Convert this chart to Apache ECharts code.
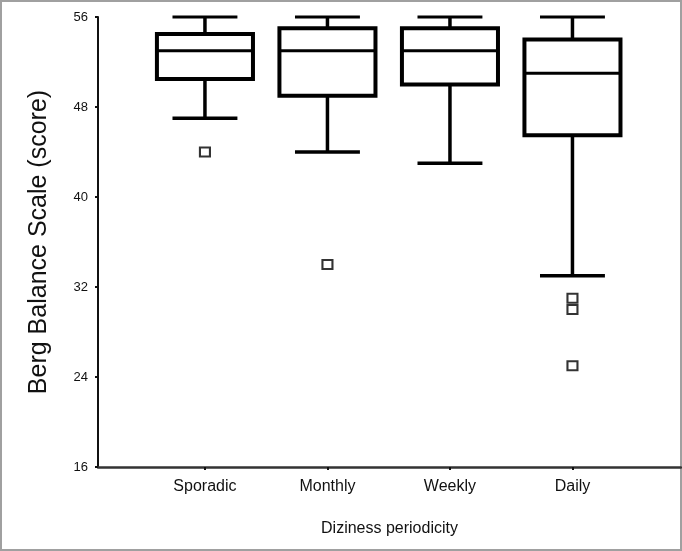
<!DOCTYPE html>
<html>
<head>
<meta charset="utf-8">
<script src="https://cdn.jsdelivr.net/npm/echarts@6/dist/echarts.min.js"></script>
<style>
  html, body { margin: 0; padding: 0; background: #fff; }
  #chart { width: 682px; height: 551px; }
</style>
</head>
<body>
<div id="chart"></div>
<script>
// ---- data ----
const categories  = ['Sporadic', 'Monthly', 'Weekly', 'Daily'];
const whiskerLow  = [47, 44, 43, 33];
const q1          = [50.5, 49, 50, 45.5];
const median      = [53, 53, 53, 51];
const q3          = [54.5, 55, 55, 54];
const whiskerHigh = [56, 56, 56, 56];
// outliers: [category index, value]
const outliers = [[0, 44], [1, 34], [3, 31], [3, 30], [3, 25]];
const yTicks = [16, 24, 32, 40, 48, 56];

// ---- build series data ----
const boxData = categories.map((c, i) => [i + 1, whiskerLow[i], q1[i], median[i], q3[i], whiskerHigh[i]]);
const outlierData = outliers.map(o => [o[0] + 1, o[1]]);

const BOX_W = 0.784;
const CAP_W = 0.53;

const chart = echarts.init(document.getElementById('chart'), null, { renderer: 'canvas' });
chart.setOption({
  backgroundColor: '#fff',
  animation: false,
  graphic: [{
    type: 'rect',
    shape: { x: 1, y: 1, width: 680, height: 549 },
    style: { fill: 'none', stroke: '#a0a0a0', lineWidth: 2 },
    silent: true, z: -10
  }],
  grid: { left: 98, right: 1, top: 17, bottom: 84 },
  xAxis: {
    type: 'value',
    min: 0.127,
    max: 4.886,
    name: 'Diziness periodicity',
    nameLocation: 'middle',
    nameGap: 54,
    nameTextStyle: { fontFamily: 'Liberation Sans', fontSize: 16, color: '#111' },
    axisLine: { show: true, lineStyle: { color: '#333', width: 2.5 } },
    axisTick: { show: true, customValues: [1, 2, 3, 4], length: 3, inside: false, lineStyle: { color: '#111', width: 2 } },
    axisLabel: {
      customValues: [1, 2, 3, 4],
      formatter: v => categories[Math.round(v) - 1] || '',
      fontFamily: 'Liberation Sans', fontSize: 16, color: '#111', margin: 12
    },
    splitLine: { show: false }
  },
  yAxis: {
    type: 'value',
    min: 16,
    max: 56,
    interval: 8,
    name: 'Berg Balance Scale (score)',
    nameLocation: 'middle',
    nameGap: 46,
    nameTextStyle: { fontFamily: 'Liberation Sans', fontSize: 25, color: '#111' },
    axisLine: { show: true, lineStyle: { color: '#111', width: 2 } },
    axisTick: { show: true, length: 3, lineStyle: { color: '#111', width: 2 } },
    axisLabel: { fontFamily: 'Liberation Sans', fontSize: 13, color: '#111', margin: 10,
      customValues: yTicks },
    splitLine: { show: false }
  },
  series: [{
    type: 'custom',
    data: boxData,
    encode: { x: 0, y: [1, 2, 3, 4, 5] },
    renderItem: function (params, api) {
      const x = api.value(0);
      const pLo = api.coord([x, api.value(1)]);
      const pQ1 = api.coord([x, api.value(2)]);
      const pMed = api.coord([x, api.value(3)]);
      const pQ3 = api.coord([x, api.value(4)]);
      const pHi = api.coord([x, api.value(5)]);
      const bw = api.size([BOX_W, 0])[0];
      const cw = api.size([CAP_W, 0])[0];
      const cx = pMed[0];
      const black = '#000';
      return {
        type: 'group',
        children: [
          { type: 'line', shape: { x1: cx, y1: pQ3[1], x2: cx, y2: pHi[1] }, style: { stroke: black, lineWidth: 3.5 } },
          { type: 'line', shape: { x1: cx, y1: pQ1[1], x2: cx, y2: pLo[1] }, style: { stroke: black, lineWidth: 3.5 } },
          { type: 'line', shape: { x1: cx - cw / 2, y1: pHi[1], x2: cx + cw / 2, y2: pHi[1] }, style: { stroke: black, lineWidth: 3 } },
          { type: 'line', shape: { x1: cx - cw / 2, y1: pLo[1], x2: cx + cw / 2, y2: pLo[1] }, style: { stroke: black, lineWidth: 3.5 } },
          { type: 'rect', shape: { x: cx - bw / 2, y: pQ3[1], width: bw, height: pQ1[1] - pQ3[1] }, style: { fill: '#fff', stroke: black, lineWidth: 4 } },
          { type: 'line', shape: { x1: cx - bw / 2, y1: pMed[1], x2: cx + bw / 2, y2: pMed[1] }, style: { stroke: black, lineWidth: 3 } }
        ]
      };
    }
  }, {
    type: 'scatter',
    data: outlierData,
    symbol: 'rect',
    symbolSize: [10, 9],
    itemStyle: { color: '#fff', borderColor: '#000', borderWidth: 2 },
    z: 5
  }]
});
</script>
</body>
</html>
